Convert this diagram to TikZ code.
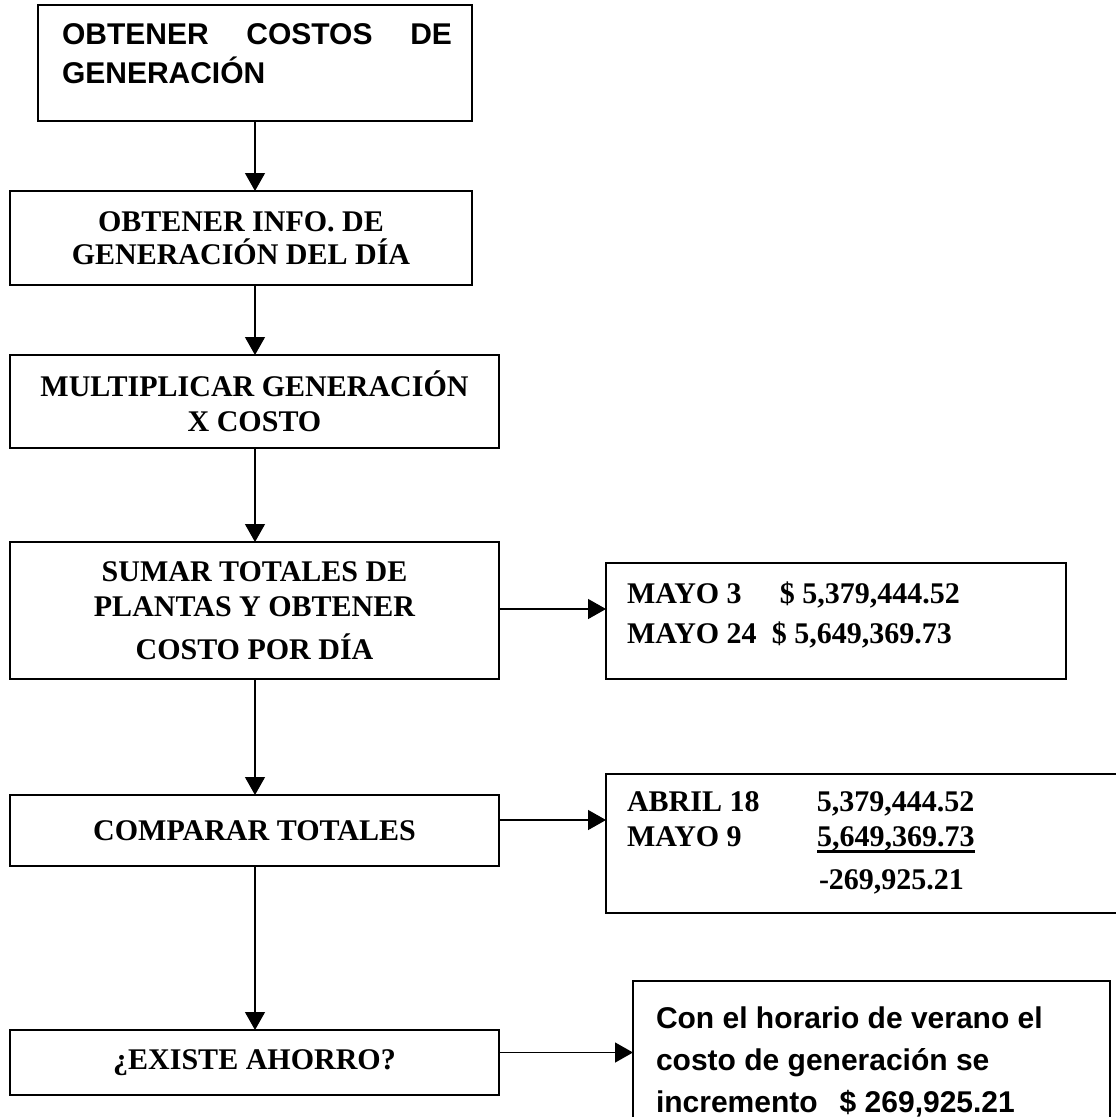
\documentclass[tikz,border=0pt]{standalone}
\usepackage{fontspec}
\setmainfont{Liberation Serif}
\newfontfamily\arialfont{Liberation Sans}
\usetikzlibrary{arrows.meta}
\newcommand\myul[1]{\setbox0\hbox{#1}\rlap{\rule[-6.5pt]{\wd0}{3pt}}\box0}
\begin{document}
\begin{tikzpicture}[x=1pt,y=-1pt,
  box/.style={draw, line width=1.3pt, inner sep=0pt, outer sep=0pt, align=center,
              font=\bfseries\fontsize{30}{35}\selectfont},
  txt/.style={inner sep=0pt, outer sep=0pt, anchor=north west, align=left},
  arr/.style={line width=1.3pt, -{Triangle[length=18pt,width=20pt]}}]
\useasboundingbox (0,0) rectangle (1116,1117);

% left column
\node[box, minimum width=434pt, minimum height=116pt] (b1) at (255,63) {};
\node[txt, text width=390pt, font=\arialfont\bfseries\fontsize{30}{39}\selectfont] (t1) at (62,24)
  {OBTENER\hfill COSTOS\hfill DE\\GENERACIÓN};
\node[box, minimum width=462pt, minimum height=94pt, font=\bfseries\fontsize{30}{33}\selectfont] (b2) at (241,238)
  {OBTENER INFO. DE\\GENERACIÓN DEL DÍA};
\node[box, minimum width=489pt, minimum height=93pt] (b3) at (254.5,401.5)
  {MULTIPLICAR GENERACIÓN\\X COSTO};
\node[box, minimum width=489pt, minimum height=137pt] (b4) at (254.5,610.5)
  {SUMAR TOTALES DE\\PLANTAS Y OBTENER\\[8pt]COSTO POR DÍA};
\node[box, minimum width=489pt, minimum height=71pt] (b5) at (254.5,830.5)
  {COMPARAR TOTALES};
\node[box, minimum width=489pt, minimum height=65pt] (b6) at (254.5,1062.5)
  {¿EXISTE AHORRO?};

% right column
\node[box, minimum width=460pt, minimum height=116pt] (m) at (836,621) {};
\node[txt, font=\bfseries\fontsize{30}{40}\selectfont] (mt) at (627,582)
  {\makebox[153pt][l]{MAYO 3}\$ 5,379,444.52\\
   \makebox[145pt][l]{MAYO 24}\$ 5,649,369.73};
\node[box, minimum width=524pt, minimum height=139pt] (ab) at (868,843.5) {};
\node[txt, font=\bfseries\fontsize{30}{35}\selectfont] (at) at (627,792)
  {\makebox[190pt][l]{ABRIL 18}5,379,444.52\\
   \makebox[190pt][l]{MAYO 9}\myul{5,649,369.73}\\[8pt]
   \hspace*{192pt}-269,925.21};
\node[box, minimum width=477pt, minimum height=149pt] (c) at (871.5,1055.5) {};
\node[txt, font=\arialfont\bfseries\fontsize{30}{42}\selectfont] (ct) at (656,1007)
  {Con el horario de verano el\\costo de generación se\\incremento\hspace{22pt}\$ 269,925.21};

% connectors
\draw[arr] (b1.south) -- (b1.south |- b2.north);
\draw[arr] (b2.south -| b1.south) -- (b3.north -| b1.south);
\draw[arr] (b3.south -| b1.south) -- (b4.north -| b1.south);
\draw[arr] (b4.south -| b1.south) -- (b5.north -| b1.south);
\draw[arr] (b5.south -| b1.south) -- (b6.north -| b1.south);
\draw[arr] ([yshift=1.5pt]b4.east) -- ([yshift=1.5pt]b4.east -| m.west);
\draw[arr] ([yshift=10.5pt]b5.east) -- ([yshift=10.5pt]b5.east -| ab.west);
\draw[arr] ([yshift=10pt]b6.east) -- ([yshift=10pt]b6.east -| c.west);
\end{tikzpicture}
\end{document}
